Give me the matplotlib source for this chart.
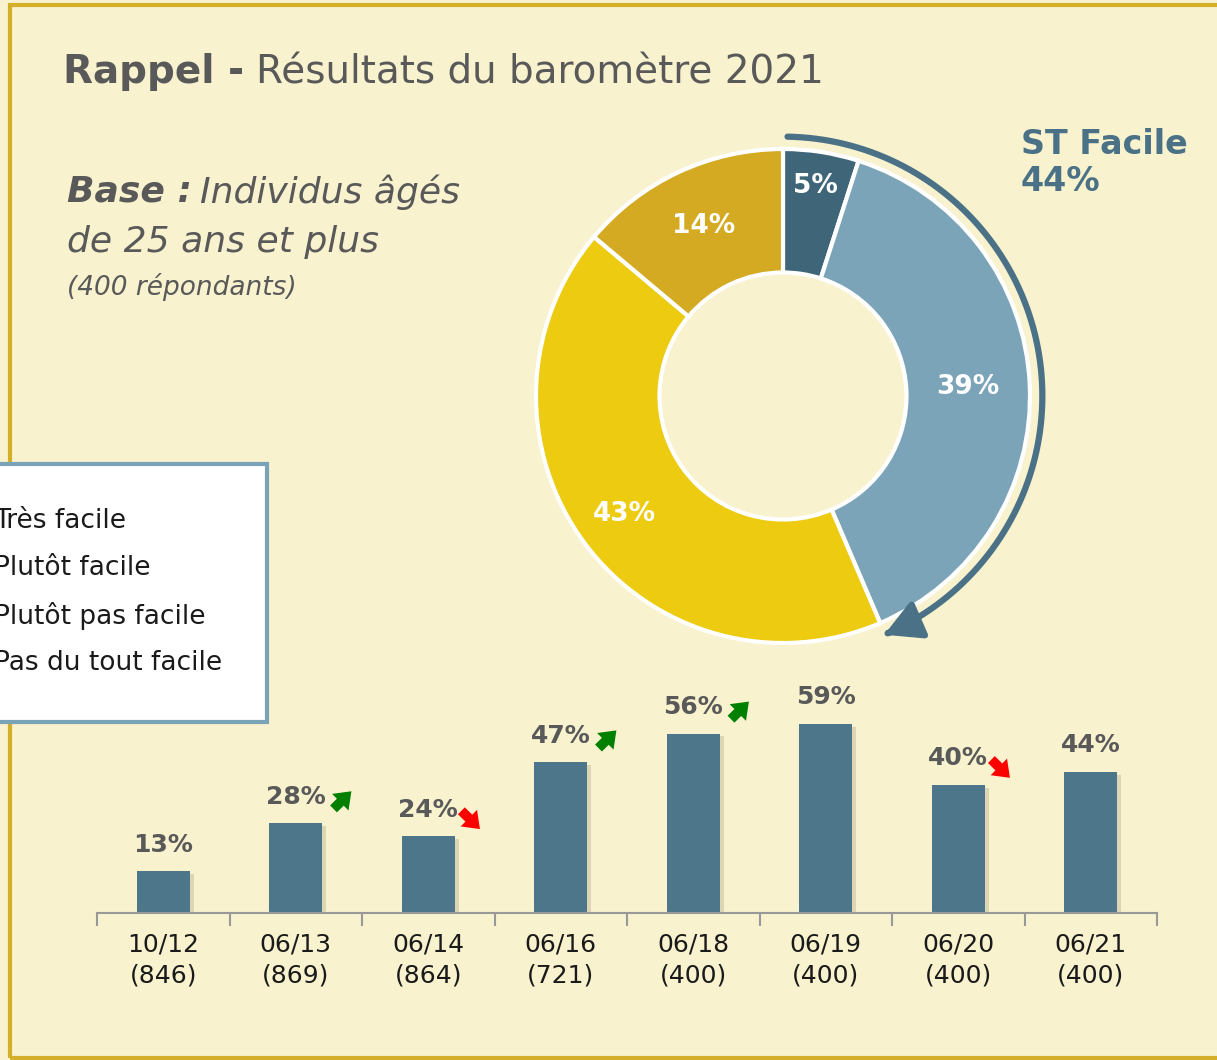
import numpy as np
import matplotlib
matplotlib.use("Agg")
import matplotlib.pyplot as plt
from matplotlib.patches import Rectangle, FancyArrowPatch
from matplotlib.path import Path
import matplotlib.patheffects as pe

# ---------------- data ----------------
donut_labels = ["Très facile", "Plutôt facile", "Plutôt pas facile", "Pas du tout facile"]
donut_values = [5, 39, 43, 14]
donut_colors = ["#3F6579", "#7BA4B8", "#ECCB10", "#D4AA22"]
st_facile = 44

periods = ["10/12", "06/13", "06/14", "06/16", "06/18", "06/19", "06/20", "06/21"]
samples = ["846", "869", "864", "721", "400", "400", "400", "400"]
bar_values = [13, 28, 24, 47, 56, 59, 40, 44]
trends = [None, "up", "down", "up", "up", None, "down", None]

# ---------------- figure ----------------
W, H = 1217, 1060
BG = "#F8F2CF"
GREY = "#595959"
BLUE = "#4A7186"
FONT = "DejaVu Sans"
plt.rcParams["font.family"] = [FONT]

fig = plt.figure(figsize=(W / 100, H / 100), dpi=100, facecolor=BG)

def fx(px):
    return px / W

def fy(py):
    return 1 - py / H

# outer frame
fig.patches.append(Rectangle((fx(10), fy(1058)), fx(1240) - fx(10), fy(5) - fy(1058),
                             transform=fig.transFigure, facecolor="none",
                             edgecolor="#D4AF2A", lw=3, zorder=0))

# title
t1 = fig.text(fx(63), fy(72), "Rappel -", fontsize=28, fontweight="bold",
              color=GREY, va="center", ha="left")
fig.canvas.draw()
bb = t1.get_window_extent()
fig.text(bb.x1 / W + fx(12), fy(72), "Résultats du baromètre 2021", fontsize=28,
         color=GREY, va="center", ha="left")

# base text
b1 = fig.text(fx(67), fy(192), "Base :", fontsize=26, fontweight="bold",
              style="italic", color=GREY, va="center", ha="left")
fig.canvas.draw()
bb = b1.get_window_extent()
fig.text(bb.x1 / W + fx(8), fy(192), "Individus âgés", fontsize=26,
         style="italic", color=GREY, va="center", ha="left")
fig.text(fx(67), fy(242), "de 25 ans et plus", fontsize=26,
         style="italic", color=GREY, va="center", ha="left")
fig.text(fx(67), fy(287), "(400 répondants)", fontsize=19,
         style="italic", color=GREY, va="center", ha="left")

# ---------------- donut ----------------
cx, cy, R = 783, 396, 247
half = 300
axd = fig.add_axes([fx(cx - half), fy(cy + half), 2 * half / W, 2 * half / H])
axd.set_facecolor("none")
wedges, _ = axd.pie(donut_values, colors=donut_colors, startangle=90,
                    counterclock=False, radius=1.0,
                    wedgeprops=dict(width=0.5, edgecolor="white", linewidth=3))
lim = half / R
axd.set_xlim(-lim, lim)
axd.set_ylim(-lim, lim)
axd.set_aspect("equal")
axd.axis("off")

label_r = [0.86, 0.75, 0.80, 0.76]
for w, v, r in zip(wedges, donut_values, label_r):
    ang = np.deg2rad((w.theta1 + w.theta2) / 2)
    axd.text(r * np.cos(ang), r * np.sin(ang), f"{v}%", color="white",
             fontsize=19, fontweight="bold", ha="center", va="center")

# bracket arc with arrow for "ST Facile"
theta = np.linspace(np.deg2rad(89), np.deg2rad(-67), 200)
ra = 1.05
arc = Path(np.column_stack([ra * np.cos(theta), ra * np.sin(theta)]))
arrow = FancyArrowPatch(path=arc, arrowstyle="-|>,head_length=1.1,head_width=0.6",
                        mutation_scale=20, color=BLUE, lw=4.5,
                        transform=axd.transData, clip_on=False)
axd.add_patch(arrow)

fig.text(fx(1021), fy(163), f"ST Facile\n{st_facile}%", fontsize=24,
         fontweight="bold", color=BLUE, ha="left", va="center", linespacing=1.15)

# ---------------- legend box ----------------
lx0, ly0, lx1, ly1 = -20, 464, 267, 722
fig.patches.append(Rectangle((fx(lx0), fy(ly1)), fx(lx1) - fx(lx0), fy(ly0) - fy(ly1),
                             transform=fig.transFigure, facecolor="white",
                             edgecolor="#7BA3B8", lw=3, zorder=2))
for i, lab in enumerate(donut_labels):
    fig.text(fx(-6), fy(521 + i * 47.3), lab, fontsize=19, color="#1A1A1A",
             ha="left", va="center", zorder=3)

# ---------------- bars ----------------
x0, x1, base = 97, 1157, 913
ppu = (913 - 724) / 59.0
ymax = 70
axb = fig.add_axes([fx(x0), fy(base), (x1 - x0) / W, ymax * ppu / H])
axb.set_facecolor("none")
xs = np.arange(len(bar_values))
bars = axb.bar(xs, bar_values, width=0.4, color="#4E768B", zorder=2)
for b in bars:
    b.set_path_effects([pe.SimplePatchShadow(offset=(3, -2), shadow_rgbFace="#8C8466",
                                             alpha=0.25), pe.Normal()])
axb.set_xlim(-0.5, len(bar_values) - 0.5)
axb.set_ylim(0, ymax)
for s in ["top", "right", "left"]:
    axb.spines[s].set_visible(False)
axb.spines["bottom"].set_color("#999999")
axb.spines["bottom"].set_linewidth(1.5)
axb.set_yticks([])
axb.set_xticks(xs)
axb.set_xticklabels([f"{p}\n({s})" for p, s in zip(periods, samples)],
                    fontsize=18, color="#1A1A1A", linespacing=1.35)
axb.tick_params(axis="x", length=0, pad=14)
axb.set_xticks(np.arange(len(bar_values) + 1) - 0.5, minor=True)
axb.tick_params(axis="x", which="minor", length=9, width=1.5, color="#999999")

astyle = "simple,head_width=1.2,head_length=0.8,tail_width=0.5"
for x, v, t in zip(xs, bar_values, trends):
    axb.text(x, v + 8.3, f"{v}%", fontsize=18, fontweight="bold", color=GREY,
             ha="center", va="center")
    if t == "up":
        axb.annotate("", xy=(x + 0.42, v + 10.0), xytext=(x + 0.285, v + 4.5),
                     arrowprops=dict(arrowstyle=astyle, color="#008000",
                                     mutation_scale=14, lw=0, shrinkA=0, shrinkB=0))
    elif t == "down":
        axb.annotate("", xy=(x + 0.39, v + 2.2), xytext=(x + 0.25, v + 7.9),
                     arrowprops=dict(arrowstyle=astyle, color="#FF0000",
                                     mutation_scale=14, lw=0, shrinkA=0, shrinkB=0))

fig.savefig("out.png", dpi=100, facecolor=BG)
